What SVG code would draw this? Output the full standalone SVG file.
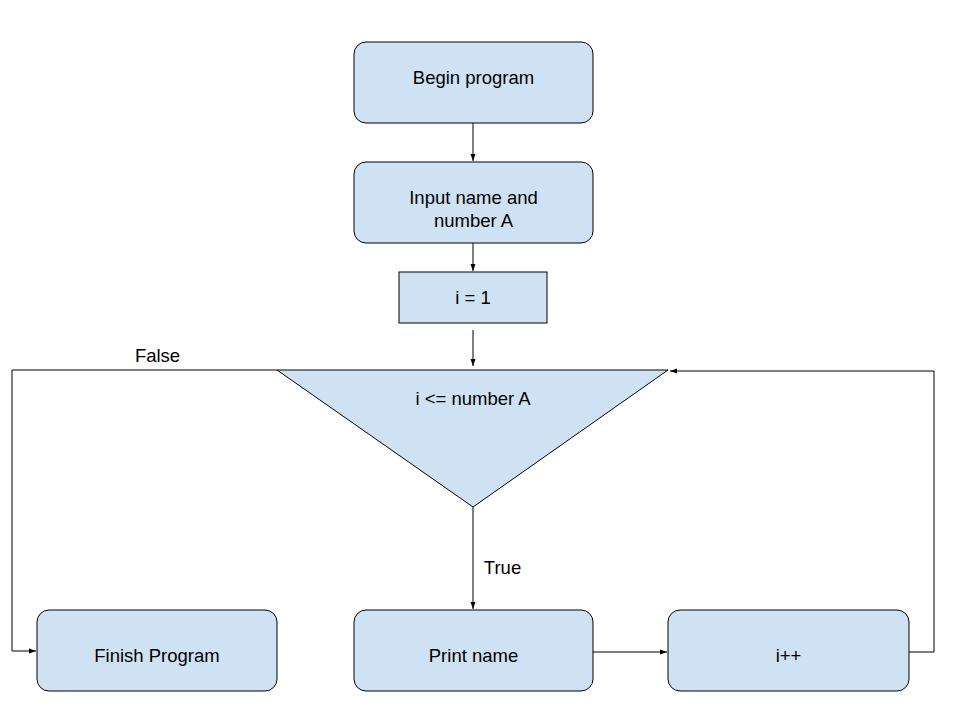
<svg xmlns="http://www.w3.org/2000/svg" width="960" height="720" viewBox="0 0 960 720">
<style>
.box{fill:#cfe2f3;stroke:#000;stroke-width:1}
.t{font-family:"Liberation Sans",Arial,sans-serif;font-size:18.5px;fill:#000;text-anchor:middle}
.c{fill:none;stroke:#000;stroke-width:1}
</style>
<defs>
<marker id="ah" markerWidth="8" markerHeight="8" refX="7" refY="4" orient="auto" markerUnits="userSpaceOnUse">
<path d="M0,1.5 L7,4 L0,6.5 Z" fill="#000"/>
</marker>
</defs>
<rect width="960" height="720" fill="#fff"/>
<g id="begin"><rect class="box" x="354" y="42" width="239" height="81" rx="12"/><text class="t" x="473.5" y="83.5">Begin program</text></g>
<g id="input"><rect class="box" x="354" y="162" width="239" height="81" rx="12"/><text class="t" x="473.5" y="204">Input name and</text><text class="t" x="473.5" y="227">number A</text></g>
<g id="init"><rect class="box" x="399" y="272" width="148" height="51"/><text class="t" x="473" y="303.5">i = 1</text></g>
<g id="cond"><polygon class="box" points="277,370 668,370 473,507"/><text class="t" x="473" y="404.5">i &lt;= number A</text></g>
<g id="finish"><rect class="box" x="37" y="610" width="240" height="81" rx="12"/><text class="t" x="157" y="661.5">Finish Program</text></g>
<g id="print"><rect class="box" x="354" y="610" width="239" height="81" rx="12"/><text class="t" x="473.5" y="661.5">Print name</text></g>
<g id="inc"><rect class="box" x="668" y="610" width="241" height="81" rx="12"/><text class="t" x="788.5" y="661.5">i++</text></g>
<g id="connectors">
<line class="c" x1="473" y1="123" x2="473" y2="161" marker-end="url(#ah)"/>
<line class="c" x1="473" y1="243" x2="473" y2="271" marker-end="url(#ah)"/>
<line class="c" x1="473" y1="330" x2="473" y2="366" marker-end="url(#ah)"/>
<polyline class="c" points="277,370 12,370 12,651 36,651" marker-end="url(#ah)"/>
<line class="c" x1="473" y1="507" x2="473" y2="609" marker-end="url(#ah)"/>
<line class="c" x1="593" y1="652" x2="667" y2="652" marker-end="url(#ah)"/>
<polyline class="c" points="909,652 934,652 934,371 670,371" marker-end="url(#ah)"/>
<text class="t" x="157.5" y="361.5">False</text>
<text class="t" x="502.5" y="573.5">True</text>
</g>
</svg>
